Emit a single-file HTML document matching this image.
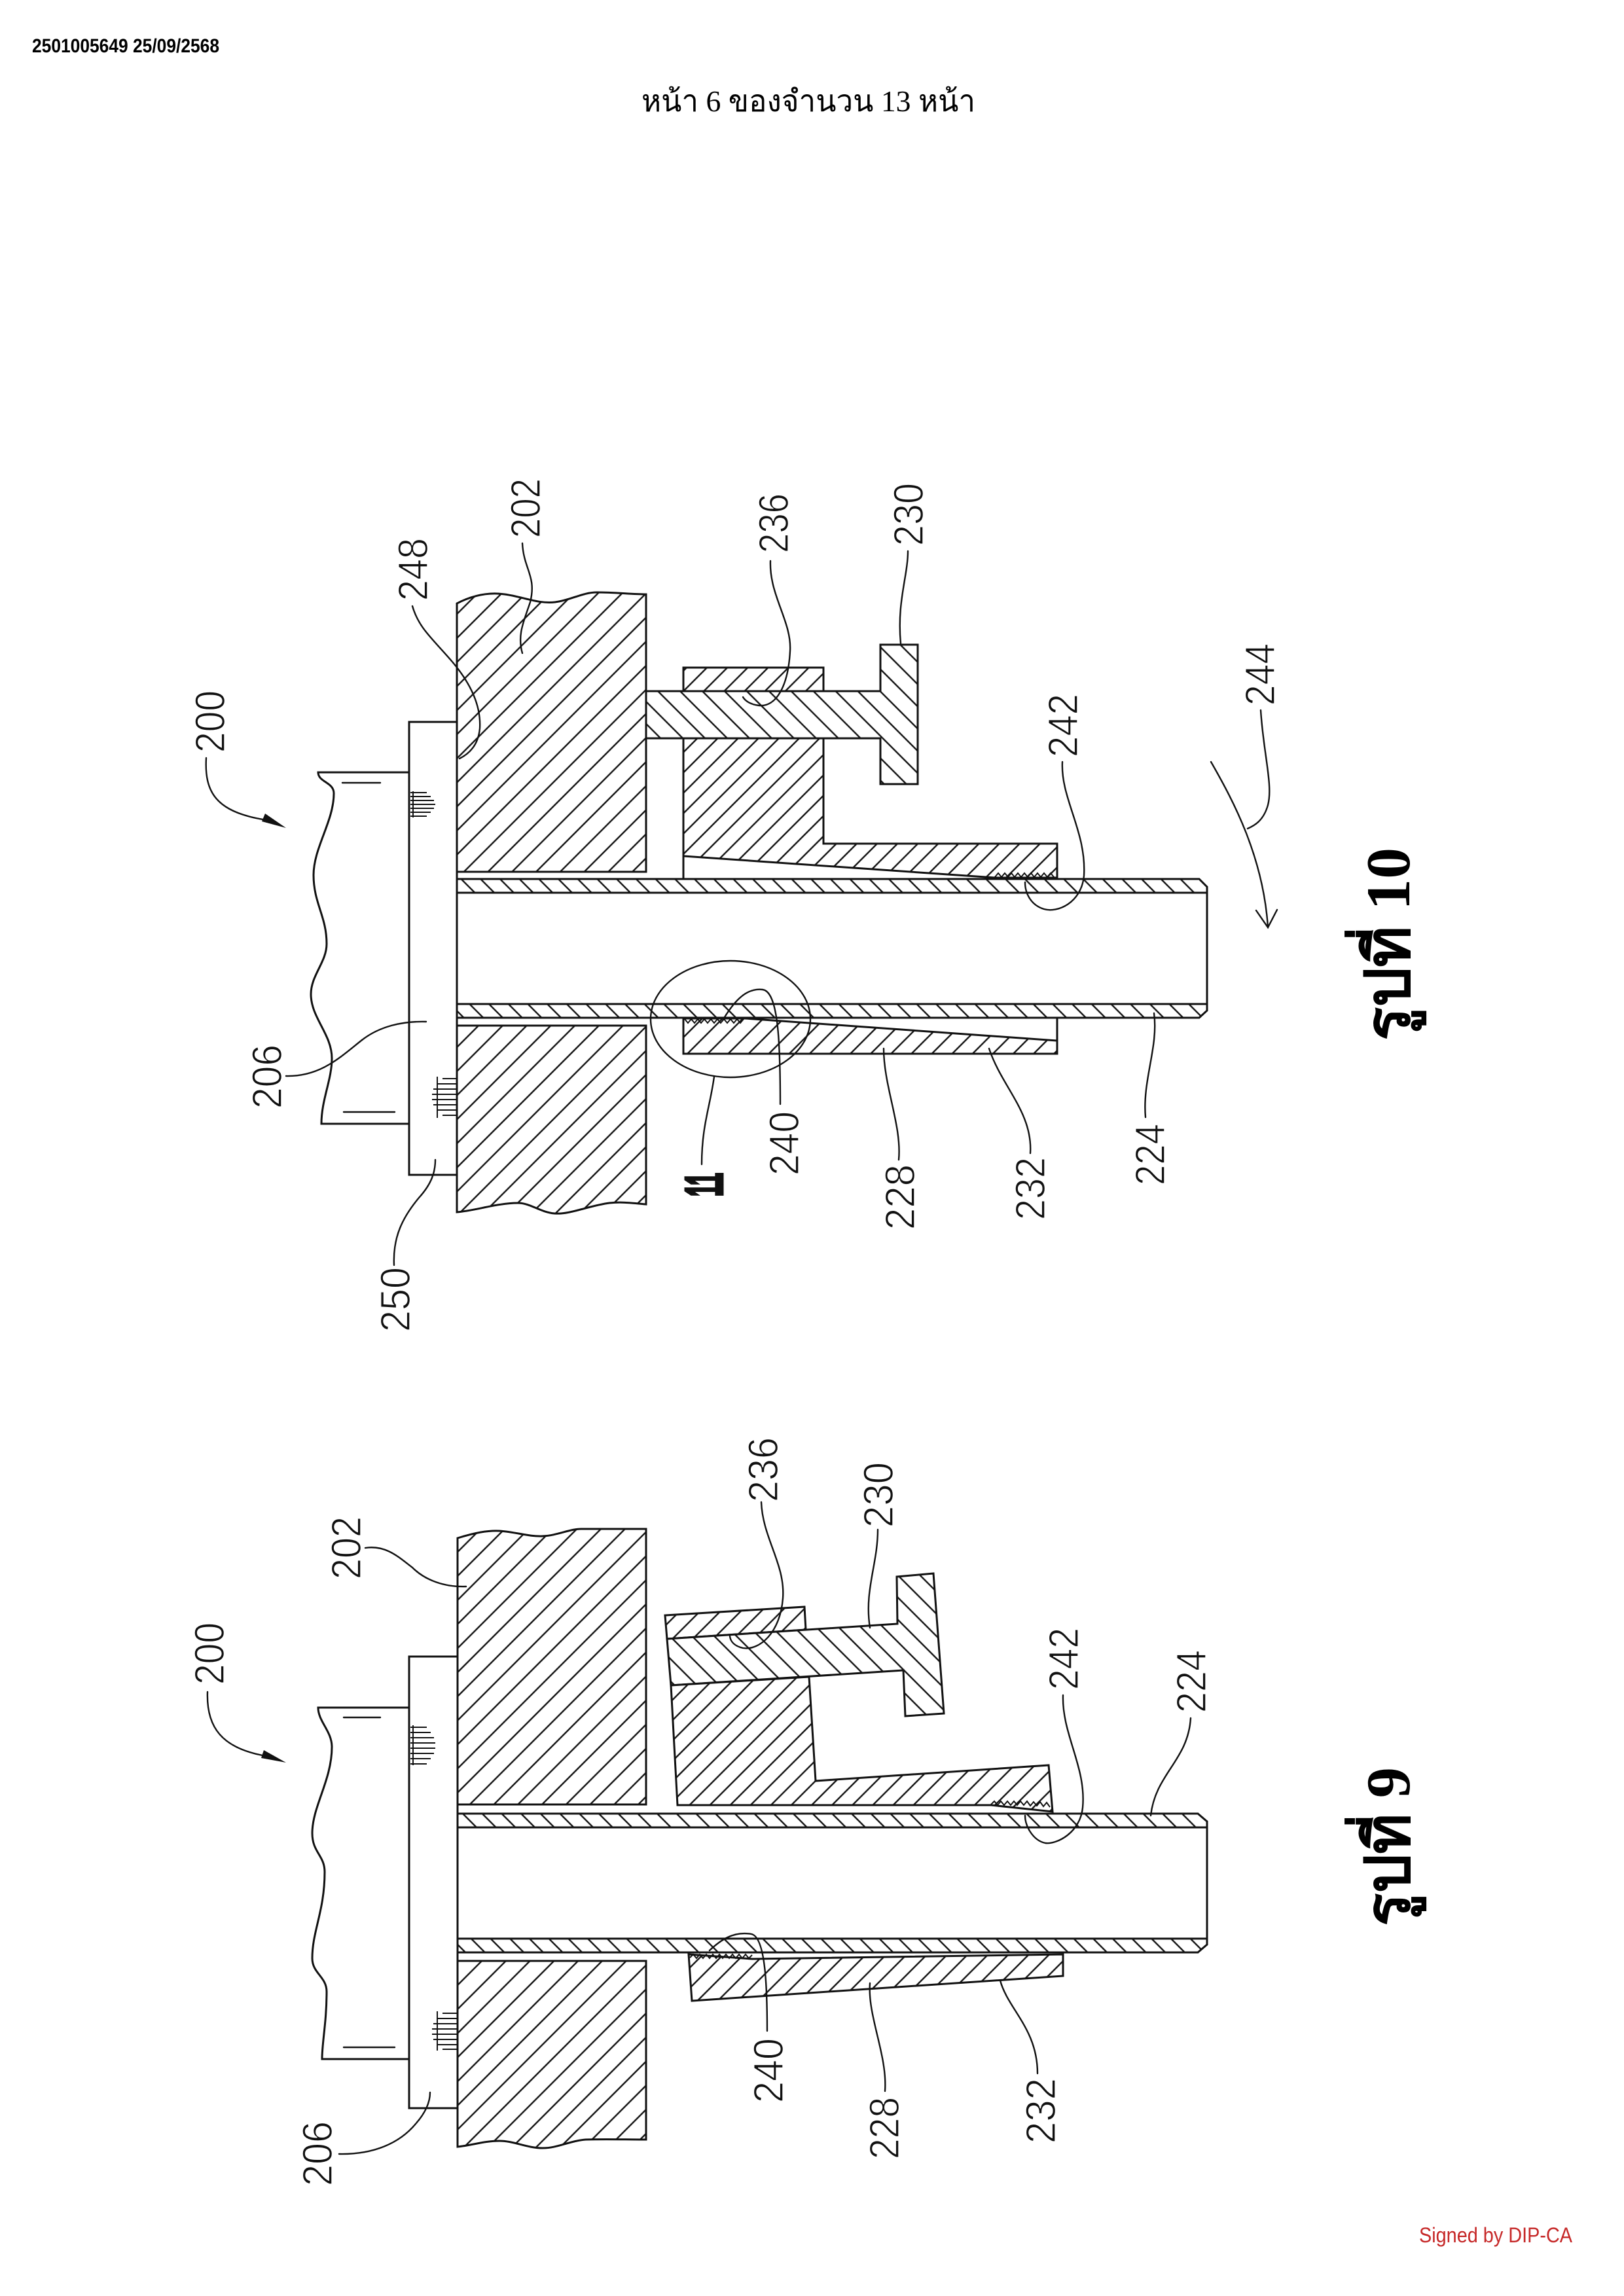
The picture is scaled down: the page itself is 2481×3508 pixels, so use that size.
<!DOCTYPE html>
<html>
<head>
<meta charset="utf-8">
<style>
html,body{margin:0;padding:0;background:#fff;}
svg{display:block;}
.o{fill:none;stroke:#111;stroke-width:3;stroke-linejoin:miter;}
.t{fill:none;stroke:#111;stroke-width:2.4;stroke-linecap:round;}
.th{fill:none;stroke:#111;stroke-width:2;}
.l{font-family:"Liberation Sans",sans-serif;font-size:64px;fill:#111;stroke:#fff;stroke-width:1.4;}
</style>
</head>
<body>
<svg width="2481" height="3508" viewBox="0 0 2481 3508" xmlns="http://www.w3.org/2000/svg">
<defs>
  <pattern id="hw" patternUnits="userSpaceOnUse" width="26" height="26" patternTransform="rotate(45)">
    <rect width="26" height="26" fill="#fff"/><line x1="13" y1="0" x2="13" y2="26" stroke="#111" stroke-width="2.4"/>
  </pattern>
  <pattern id="hc" patternUnits="userSpaceOnUse" width="22" height="22" patternTransform="rotate(45)">
    <rect width="22" height="22" fill="#fff"/><line x1="11" y1="0" x2="11" y2="22" stroke="#111" stroke-width="2.4"/>
  </pattern>
  <pattern id="hb" patternUnits="userSpaceOnUse" width="24" height="24" patternTransform="rotate(-45)">
    <rect width="24" height="24" fill="#fff"/><line x1="12" y1="0" x2="12" y2="24" stroke="#111" stroke-width="2.4"/>
  </pattern>
  <pattern id="ht" patternUnits="userSpaceOnUse" width="21" height="21" patternTransform="rotate(-45)">
    <rect width="21" height="21" fill="#fff"/><line x1="10.5" y1="0" x2="10.5" y2="21" stroke="#111" stroke-width="2.4"/>
  </pattern>
</defs>
<rect width="2481" height="3508" fill="#fff"/>

<!-- Header -->
<text x="49" y="80" font-family="'Liberation Sans',sans-serif" font-weight="bold" font-size="30" textLength="286" lengthAdjust="spacingAndGlyphs" fill="#000">2501005649 25/09/2568</text>
<text x="980" y="170" font-family="'Liberation Serif','Noto Serif CJK SC',serif" font-size="46" textLength="510" lengthAdjust="spacingAndGlyphs" fill="#000">หน้า 6 ของจำนวน 13 หน้า</text>

<!-- ================= FIGURE 10 ================= -->
<path class="o" d="M625,1180 L486,1180 C486,1195 510,1195 510,1212 C510,1255 479,1295 479,1337 C479,1380 499,1400 499,1442 C499,1470 475,1490 475,1519 C475,1555 507,1580 507,1617 C507,1650 491,1680 491,1717 L625,1717"/>
<line class="t" x1="523" y1="1196" x2="581" y2="1196"/>
<line class="t" x1="525" y1="1699" x2="603" y2="1699"/>
<g class="th">
  <line x1="631" y1="1209" x2="631" y2="1249"/>
  <line x1="627" y1="1211" x2="652" y2="1211"/>
  <line x1="627" y1="1217" x2="658" y2="1217"/>
  <line x1="627" y1="1223" x2="663" y2="1223"/>
  <line x1="627" y1="1229" x2="665" y2="1229"/>
  <line x1="627" y1="1235" x2="663" y2="1235"/>
  <line x1="627" y1="1241" x2="658" y2="1241"/>
  <line x1="627" y1="1247" x2="652" y2="1247"/>
  <line x1="668" y1="1645" x2="668" y2="1708"/>
  <line x1="676" y1="1648" x2="697" y2="1648"/>
  <line x1="668" y1="1656" x2="697" y2="1656"/>
  <line x1="662" y1="1664" x2="697" y2="1664"/>
  <line x1="660" y1="1672" x2="697" y2="1672"/>
  <line x1="660" y1="1680" x2="697" y2="1680"/>
  <line x1="662" y1="1688" x2="697" y2="1688"/>
  <line x1="668" y1="1696" x2="697" y2="1696"/>
  <line x1="676" y1="1704" x2="697" y2="1704"/>
</g>
<rect class="o" x="625" y="1103" width="73" height="692"/>
<path class="o" style="fill:url(#hw)" d="M698,922 C725,908 750,905 771,908 C800,912 822,923 848,920 C872,917 890,905 912,905 C940,905 965,908 987,908 L987,1332 L698,1332 Z"/>
<path class="o" style="fill:url(#hw)" d="M698,1567 L987,1567 L987,1840 C965,1838 950,1836 931,1838 C900,1842 870,1856 847,1854 C825,1852 810,1838 791,1838 C760,1838 725,1850 698,1852 Z"/>
<path class="o" style="fill:url(#ht)" d="M698,1343 L1832,1343 L1844,1355 L1844,1364 L698,1364 Z"/>
<path class="o" style="fill:url(#ht)" d="M698,1534 L1844,1534 L1844,1544 L1832,1555 L698,1555 Z"/>
<line class="o" x1="1844" y1="1355" x2="1844" y2="1544"/>
<line class="o" x1="698" y1="1364" x2="698" y2="1534"/>
<polygon class="o" style="fill:url(#hb)" points="987,1056 1345,1056 1345,985 1402,985 1402,1198 1345,1198 1345,1128 987,1128"/>
<rect class="o" style="fill:url(#hc)" x="1044" y="1020" width="214" height="36"/>
<polygon class="o" style="fill:url(#hc)" points="1044,1128 1258,1128 1258,1289 1615,1289 1615,1341 1520,1341 1044,1308"/>
<line class="o" x1="1044" y1="1308" x2="1044" y2="1343"/>
<polyline class="th" points="1520,1340 1525,1334 1530,1340 1535,1334 1540,1340 1545,1334 1550,1340 1555,1334 1560,1340 1565,1334 1570,1340 1575,1334 1580,1340 1585,1334 1590,1340 1595,1334 1600,1340 1605,1334 1610,1340"/>
<polygon class="o" style="fill:url(#hc)" points="1044,1556 1138,1556 1615,1590 1615,1610 1044,1610"/>
<line class="o" x1="1615" y1="1555" x2="1615" y2="1590"/>
<polyline class="th" points="1046,1557 1051,1563 1056,1557 1061,1563 1066,1557 1071,1563 1076,1557 1081,1563 1086,1557 1091,1563 1096,1557 1101,1563 1106,1557 1111,1563 1116,1557 1121,1563 1126,1557 1131,1563 1136,1557"/>
<ellipse class="t" cx="1116" cy="1557" rx="122" ry="89"/>

<g class="t">
  <path d="M315,1158 C312,1210 330,1240 402,1252"/>
  <path d="M630,926 C640,960 660,975 690,1010 C720,1045 735,1080 733,1113 C731,1135 720,1150 702,1159"/>
  <path d="M798,830 C800,870 820,880 810,920 C800,950 790,970 798,998"/>
  <path d="M1177,857 C1175,910 1210,950 1207,995 C1204,1050 1185,1080 1160,1078 C1145,1076 1138,1070 1135,1065"/>
  <path d="M1387,842 C1387,880 1370,920 1376,983"/>
  <path d="M1623,1164 C1620,1220 1660,1270 1656,1338 C1652,1380 1615,1395 1595,1389 C1575,1383 1566,1365 1566,1348"/>
  <path d="M1926,1085 C1930,1150 1945,1200 1937,1230 C1930,1255 1915,1262 1906,1266"/>
  <path d="M1850,1164 C1885,1225 1930,1310 1937,1417"/>
  <path d="M1919,1391 L1937,1417 L1951,1390"/>
  <path d="M437,1644 C490,1645 520,1615 553,1589 C580,1568 615,1560 651,1561"/>
  <path d="M602,1933 C600,1890 615,1860 640,1830 C660,1808 665,1790 665,1772"/>
  <path d="M1091,1645 C1085,1690 1072,1720 1072,1779"/>
  <path d="M1192,1687 C1192,1600 1190,1515 1165,1512 C1140,1509 1122,1530 1107,1554"/>
  <path d="M1373,1772 C1378,1720 1350,1660 1350,1602"/>
  <path d="M1574,1762 C1578,1700 1530,1660 1511,1602"/>
  <path d="M1750,1707 C1745,1650 1770,1600 1763,1548"/>
</g>
<polygon points="437,1265 400,1255 405,1243" fill="#111"/>

<text class="l" transform="translate(343,1150) rotate(-90)" textLength="95" lengthAdjust="spacingAndGlyphs">200</text>
<text class="l" transform="translate(653,918) rotate(-90)" textLength="96" lengthAdjust="spacingAndGlyphs">248</text>
<text class="l" transform="translate(825,822) rotate(-90)" textLength="91" lengthAdjust="spacingAndGlyphs">202</text>
<text class="l" transform="translate(1204,845) rotate(-90)" textLength="91" lengthAdjust="spacingAndGlyphs">236</text>
<text class="l" transform="translate(1410,834) rotate(-90)" textLength="96" lengthAdjust="spacingAndGlyphs">230</text>
<text class="l" transform="translate(1646,1157) rotate(-90)" textLength="97" lengthAdjust="spacingAndGlyphs">242</text>
<text class="l" transform="translate(1947,1078) rotate(-90)" textLength="95" lengthAdjust="spacingAndGlyphs">244</text>
<text class="l" transform="translate(430,1694) rotate(-90)" textLength="98" lengthAdjust="spacingAndGlyphs">206</text>
<text class="l" transform="translate(626,2035) rotate(-90)" textLength="99" lengthAdjust="spacingAndGlyphs">250</text>
<text class="l" transform="translate(1220,1796) rotate(-90)" textLength="98" lengthAdjust="spacingAndGlyphs">240</text>
<text class="l" transform="translate(1397,1879) rotate(-90)" textLength="100" lengthAdjust="spacingAndGlyphs">228</text>
<text class="l" transform="translate(1596,1864) rotate(-90)" textLength="96" lengthAdjust="spacingAndGlyphs">232</text>
<text class="l" transform="translate(1779,1811) rotate(-90)" textLength="94" lengthAdjust="spacingAndGlyphs">224</text>
<text transform="translate(1103,1828) rotate(-90)" font-family="'Liberation Sans',sans-serif" font-weight="bold" font-size="80" textLength="36" lengthAdjust="spacingAndGlyphs" fill="#111" stroke="#111" stroke-width="5">11</text>

<text transform="translate(2153,1590) rotate(-90)" font-family="'Liberation Serif','Noto Serif CJK SC',serif" font-weight="bold" font-size="95" textLength="295" lengthAdjust="spacingAndGlyphs" fill="#000">รูปที่ 10</text>

<!-- ================= FIGURE 9 ================= -->
<path class="o" d="M625,2609 L486,2609 C486,2630 507,2645 507,2669 C507,2720 477,2760 477,2801 C477,2830 496,2835 496,2860 C496,2920 477,2950 477,2992 C477,3015 499,3020 499,3043 C499,3090 492,3120 492,3146 L625,3146"/>
<line class="t" x1="525" y1="2624" x2="581" y2="2624"/>
<line class="t" x1="525" y1="3128" x2="603" y2="3128"/>
<g class="th">
  <line x1="631" y1="2636" x2="631" y2="2697"/>
  <line x1="627" y1="2639" x2="652" y2="2639"/>
  <line x1="627" y1="2647" x2="658" y2="2647"/>
  <line x1="627" y1="2655" x2="663" y2="2655"/>
  <line x1="627" y1="2663" x2="665" y2="2663"/>
  <line x1="627" y1="2671" x2="665" y2="2671"/>
  <line x1="627" y1="2679" x2="663" y2="2679"/>
  <line x1="627" y1="2687" x2="658" y2="2687"/>
  <line x1="627" y1="2695" x2="652" y2="2695"/>
  <line x1="668" y1="3073" x2="668" y2="3133"/>
  <line x1="676" y1="3076" x2="698" y2="3076"/>
  <line x1="668" y1="3084" x2="698" y2="3084"/>
  <line x1="662" y1="3092" x2="698" y2="3092"/>
  <line x1="660" y1="3100" x2="698" y2="3100"/>
  <line x1="660" y1="3108" x2="698" y2="3108"/>
  <line x1="662" y1="3116" x2="698" y2="3116"/>
  <line x1="668" y1="3124" x2="698" y2="3124"/>
  <line x1="676" y1="3131" x2="698" y2="3131"/>
</g>
<rect class="o" x="625" y="2531" width="74" height="690"/>
<path class="o" style="fill:url(#hw)" d="M699,2350 C725,2342 745,2338 763,2339 C790,2341 808,2348 829,2347 C852,2346 870,2336 888,2336 C920,2336 955,2336 987,2336 L987,2757 L699,2757 Z"/>
<path class="o" style="fill:url(#hw)" d="M699,2996 L987,2996 L987,3269 C955,3269 925,3268 895,3269 C870,3271 852,3282 829,3282 C805,3282 785,3271 763,3271 C740,3271 720,3278 699,3280 Z"/>
<path class="o" style="fill:url(#ht)" d="M699,2771 L1830,2771 L1844,2783 L1844,2792 L699,2792 Z"/>
<path class="o" style="fill:url(#ht)" d="M699,2962 L1844,2962 L1844,2971 L1830,2983 L699,2983 Z"/>
<line class="o" x1="1844" y1="2783" x2="1844" y2="2971"/>
<line class="o" x1="699" y1="2792" x2="699" y2="2962"/>
<polygon class="o" style="fill:url(#hc)" points="1016,2468 1229,2455 1231,2490 1019,2504"/>
<polygon class="o" style="fill:url(#hb)" points="1019,2504 1371,2481 1370,2409 1426,2404 1442,2618 1383,2622 1380,2552 1025,2575"/>
<polygon class="o" style="fill:url(#hc)" points="1025,2575 1236,2562 1246,2721 1602,2697 1608,2768 1514,2758 1035,2758"/>
<polyline class="th" points="1514,2757 1519,2752 1524,2758 1529,2752 1534,2758 1539,2752 1544,2758 1549,2752 1554,2758 1559,2752 1564,2758 1569,2752 1574,2759 1579,2753 1584,2759 1589,2753 1594,2760 1599,2754 1604,2761"/>
<polygon class="o" style="fill:url(#hc)" points="1052,2986 1149,2993 1624,2986 1624,3019 1057,3057"/>
<polyline class="th" points="1054,2991 1059,2986 1064,2992 1069,2986 1074,2992 1079,2986 1084,2992 1089,2986 1094,2992 1099,2986 1104,2992 1109,2986 1114,2992 1119,2986 1124,2992 1129,2986 1134,2992 1139,2986 1144,2992 1149,2987"/>

<g class="t">
  <path d="M317,2585 C315,2640 340,2670 401,2682"/>
  <path d="M558,2365 C590,2360 610,2380 630,2395 C650,2415 680,2425 712,2424"/>
  <path d="M518,3291 C570,3292 610,3275 635,3245 C650,3228 657,3212 657,3197"/>
  <path d="M1163,2295 C1165,2350 1200,2390 1196,2442 C1192,2495 1160,2522 1135,2518 C1122,2515 1116,2508 1115,2500"/>
  <path d="M1341,2337 C1341,2390 1320,2430 1329,2487"/>
  <path d="M1624,2590 C1622,2650 1660,2700 1654,2762 C1650,2800 1615,2818 1597,2816 C1578,2812 1566,2790 1566,2774"/>
  <path d="M1819,2625 C1815,2690 1765,2710 1758,2774"/>
  <path d="M1172,3103 C1172,3040 1170,2960 1148,2955 C1120,2950 1100,2965 1084,2980"/>
  <path d="M1352,3195 C1356,3140 1325,3080 1329,3030"/>
  <path d="M1585,3168 C1585,3100 1540,3070 1528,3026"/>
</g>
<polygon points="437,2693 399,2686 403,2674" fill="#111"/>

<text class="l" transform="translate(342,2574) rotate(-90)" textLength="95" lengthAdjust="spacingAndGlyphs">200</text>
<text class="l" transform="translate(551,2413) rotate(-90)" textLength="96" lengthAdjust="spacingAndGlyphs">202</text>
<text class="l" transform="translate(1188,2295) rotate(-90)" textLength="99" lengthAdjust="spacingAndGlyphs">236</text>
<text class="l" transform="translate(1364,2334) rotate(-90)" textLength="100" lengthAdjust="spacingAndGlyphs">230</text>
<text class="l" transform="translate(1647,2582) rotate(-90)" textLength="95" lengthAdjust="spacingAndGlyphs">242</text>
<text class="l" transform="translate(1842,2617) rotate(-90)" textLength="96" lengthAdjust="spacingAndGlyphs">224</text>
<text class="l" transform="translate(507,3340) rotate(-90)" textLength="99" lengthAdjust="spacingAndGlyphs">206</text>
<text class="l" transform="translate(1196,3213) rotate(-90)" textLength="99" lengthAdjust="spacingAndGlyphs">240</text>
<text class="l" transform="translate(1373,3299) rotate(-90)" textLength="95" lengthAdjust="spacingAndGlyphs">228</text>
<text class="l" transform="translate(1612,3275) rotate(-90)" textLength="100" lengthAdjust="spacingAndGlyphs">232</text>

<text transform="translate(2153,2943) rotate(-90)" font-family="'Liberation Serif','Noto Serif CJK SC',serif" font-weight="bold" font-size="95" textLength="243" lengthAdjust="spacingAndGlyphs" fill="#000">รูปที่ 9</text>

<text x="2168" y="3426" font-family="'Liberation Sans',sans-serif" font-size="32" fill="#c62828" textLength="234" lengthAdjust="spacingAndGlyphs">Signed by DIP-CA</text>
</svg>
</body>
</html>
